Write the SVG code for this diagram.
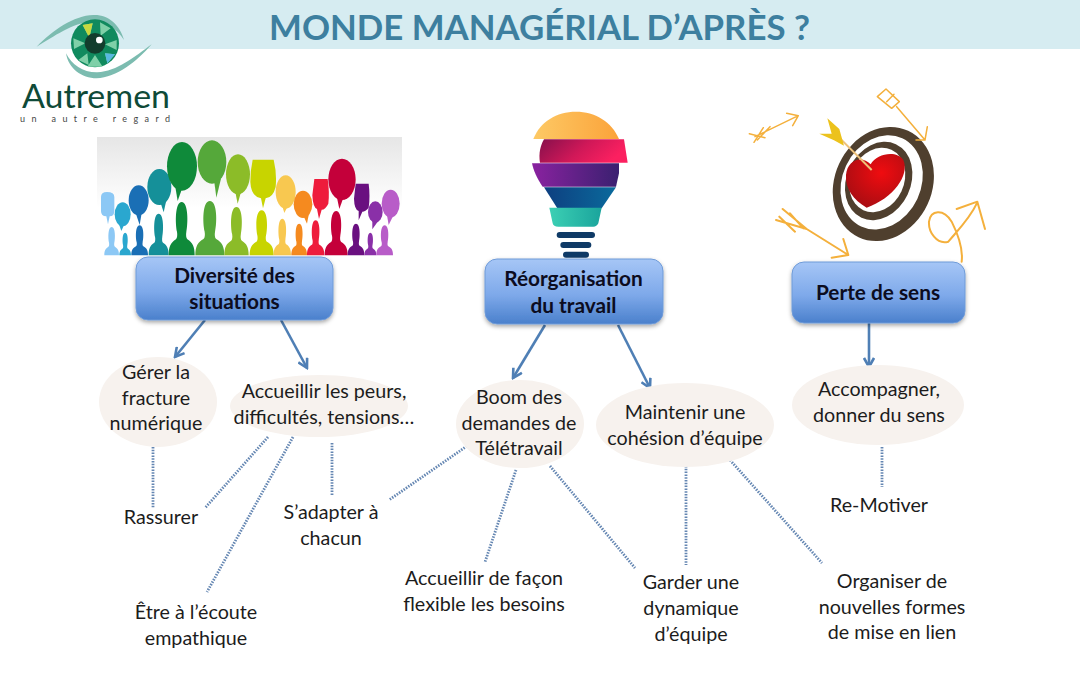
<svg xmlns="http://www.w3.org/2000/svg" width="1080" height="675" viewBox="0 0 1080 675">
<style>
.t{font-family:Lato,"Open Sans",sans-serif;font-size:19.700px;fill:#1c1c1c;text-anchor:middle}
.h{font-family:Lato,"Open Sans",sans-serif;font-size:20.800px;font-weight:700;fill:#0c0c20;text-anchor:middle}
.box{fill:url(#bg);stroke:#6f9bd8;stroke-width:1;filter:url(#sh)}
.el{fill:#f7f2ee}
.a{fill:none;stroke:#4f7fb5;stroke-width:2.600}
.d{fill:none;stroke:#6486b2;stroke-width:2.800;stroke-dasharray:1.500 1.300}
.o{fill:none;stroke:#f4b03c;stroke-width:4.500;stroke-linecap:round;stroke-linejoin:round}
</style>
<defs>
<linearGradient id="bg" x1="0" y1="0" x2="0" y2="1"><stop offset="0" stop-color="#a6c6f6"/><stop offset=".55" stop-color="#7ea9ea"/><stop offset="1" stop-color="#4a80cc"/></linearGradient>
<linearGradient id="panel" x1="0" y1="0" x2="0" y2="1"><stop offset="0" stop-color="#e6e6e6"/><stop offset=".6" stop-color="#ffffff"/></linearGradient>
<linearGradient id="l1" x1="0" y1="0" x2="1" y2="0"><stop offset="0" stop-color="#fdc965"/><stop offset="1" stop-color="#fba33a"/></linearGradient>
<linearGradient id="l2" x1="0" y1="0" x2="1" y2=".3"><stop offset="0" stop-color="#86104c"/><stop offset=".55" stop-color="#d01858"/><stop offset="1" stop-color="#fb2060"/></linearGradient>
<linearGradient id="l3" x1="0" y1="0" x2="1" y2="0"><stop offset="0" stop-color="#8a22a0"/><stop offset="1" stop-color="#3a2070"/></linearGradient>
<linearGradient id="l4" x1="0" y1="0" x2="1" y2="0"><stop offset="0" stop-color="#0e3f80"/><stop offset="1" stop-color="#0a6a9c"/></linearGradient>
<linearGradient id="l5" x1="0" y1="0" x2="1" y2="0"><stop offset="0" stop-color="#3cd0b4"/><stop offset="1" stop-color="#1aa49c"/></linearGradient>
<radialGradient id="hg" cx=".6" cy=".35" r=".7"><stop offset="0" stop-color="#f00c10"/><stop offset="1" stop-color="#a80d12"/></radialGradient>
<filter id="sh" x="-10%" y="-10%" width="120%" height="130%"><feDropShadow dx="0" dy="2" stdDeviation="2" flood-color="#000" flood-opacity=".35"/></filter>
<marker id="ah" viewBox="0 0 12 12" refX="10" refY="6" markerWidth="12" markerHeight="12" markerUnits="userSpaceOnUse" orient="auto"><path d="M1,1 L10,6 L1,11" fill="none" stroke="#4f7fb5" stroke-width="2.600"/></marker>
<path id="p" d="M0,100 C0,84 8,76 28,70 C33,68 34,62 32,56 C25,40 24,0 50,0 C76,0 75,40 68,56 C66,62 67,68 72,70 C92,76 100,84 100,100Z"/>
</defs>

<rect width="1080" height="675" fill="#fff"/>
<rect id="header" width="1080" height="49" fill="#d6ecf1"/>
<text x="539.500" y="40" font-family="Lato,sans-serif" font-weight="700" font-size="35" fill="#3d7f9f" text-anchor="middle" textLength="541" lengthAdjust="spacingAndGlyphs">MONDE MANAGÉRIAL D’APRÈS ?</text>

<g id="logo">
<g transform="translate(10,5) scale(.33333)">
<path d="M80,125 C130,75 190,32 250,30 C295,28 330,60 342,105 C320,70 285,48 245,50 C190,52 130,95 80,125Z" fill="#7cbcb0"/>
<path d="M425,118 C380,170 320,218 260,220 C215,220 175,190 168,145 C185,180 220,203 262,202 C320,200 375,155 425,118Z" fill="#7cbcb0"/>
<circle cx="255" cy="115" r="72" fill="#108a5e"/>
<path d="M218,60 L238,98 L248,55Z M270,52 L272,92 L302,70Z M190,100 L226,115 L192,132Z M320,105 L285,118 L320,135Z M205,165 L232,145 L236,180Z M255,150 L232,185 L278,185Z M285,145 L315,148 L292,175Z" fill="#7fd0a8"/>
<path d="M218,60 L238,98 L248,55Z" fill="#c8d840"/>
<path d="M285,145 L315,148 L292,175Z" fill="#58b8e0"/>
<circle cx="255" cy="115" r="31" fill="#123d2d"/>
<circle cx="268" cy="105" r="10" fill="#fff"/>
</g>
<text x="22" y="108" font-family="Lato,sans-serif" font-size="32" fill="#0f4a38" textLength="148" lengthAdjust="spacingAndGlyphs">Autremen</text>
<text x="20" y="122" font-family="Lato,sans-serif" font-size="9" fill="#444" textLength="150">un autre regard</text>
</g>

<g id="people">
<rect x="97" y="137" width="305" height="119" fill="url(#panel)"/>
<g transform="translate(97,137) scale(.33333)">
<g id="bubbles">
<path fill="#8cc8f5" d="M12,180 Q12,165 30,165 Q52,165 52,180 L52,222 Q52,238 38,238 L33,262 L28,238 Q12,238 12,222Z"/>
<ellipse cx="77" cy="232" rx="24" ry="36" fill="#2aa7cf"/><path fill="#2aa7cf" d="M66,262 L73,282 L82,262Z"/>
<ellipse cx="125" cy="190" rx="30" ry="45" fill="#1a6fb5"/><path fill="#1a6fb5" d="M116,228 L128,264 L134,228Z"/>
<ellipse cx="187" cy="150" rx="36" ry="54" fill="#159099"/><path fill="#159099" d="M190,195 L200,226 L208,190Z"/>
<ellipse cx="255" cy="88" rx="45" ry="73" fill="#0f8a3a"/><path fill="#0f8a3a" d="M235,150 L242,192 L255,155Z"/>
<ellipse cx="345" cy="75" rx="43" ry="65" fill="#55a83a"/><path fill="#55a83a" d="M352,135 L358,182 L372,125Z"/>
<ellipse cx="423" cy="112" rx="36" ry="60" fill="#8cbc28"/><path fill="#8cbc28" d="M415,165 L422,200 L432,165Z"/>
<path fill="#c8d400" d="M467,68 L530,68 Q540,110 536,150 Q528,182 506,184 L498,214 L492,184 Q462,178 460,135 Q460,100 467,68Z"/>
<ellipse cx="566" cy="165" rx="30" ry="50" fill="#f8c850"/><path fill="#f8c850" d="M556,208 L562,228 L572,208Z"/>
<ellipse cx="618" cy="202" rx="28" ry="41" fill="#f58a1f"/><path fill="#f58a1f" d="M620,238 L630,260 L635,234Z"/>
<path fill="#ee1c3c" d="M652,126 L692,126 Q698,165 694,200 Q685,218 674,218 L666,246 L660,216 Q648,212 646,175Z"/>
<ellipse cx="735" cy="127" rx="41" ry="62" fill="#c4003a"/><path fill="#c4003a" d="M720,182 L727,216 L738,185Z"/>
<path fill="#6a1080" d="M776,140 L815,140 Q820,180 815,212 Q805,224 796,224 L785,250 L785,222 Q772,218 771,185Z"/>
<ellipse cx="835" cy="225" rx="22" ry="32" fill="#8a30a8"/><path fill="#8a30a8" d="M826,252 L826,277 L842,254Z"/>
<ellipse cx="881" cy="200" rx="27" ry="42" fill="#b85cc8"/><path fill="#b85cc8" d="M870,235 L875,264 L888,238Z"/>
</g>
<g id="silhouettes">
<use href="#p" fill="#8cc8f5" transform="translate(22,270) scale(.44,.85)"/>
<use href="#p" fill="#2aa7cf" transform="translate(67,287) scale(.35,.68)"/>
<use href="#p" fill="#1a6fb5" transform="translate(103,265) scale(.5,.9)"/>
<use href="#p" fill="#159099" transform="translate(155,230) scale(.6,1.25)"/>
<use href="#p" fill="#0f8a3a" transform="translate(215,195) scale(.78,1.6)"/>
<use href="#p" fill="#55a83a" transform="translate(295,192) scale(.87,1.63)"/>
<use href="#p" fill="#8cbc28" transform="translate(382,210) scale(.73,1.45)"/>
<use href="#p" fill="#c8d400" transform="translate(458,220) scale(.72,1.35)"/>
<use href="#p" fill="#f8c850" transform="translate(530,245) scale(.52,1.1)"/>
<use href="#p" fill="#f58a1f" transform="translate(583,260) scale(.47,.95)"/>
<use href="#p" fill="#ee1c3c" transform="translate(630,250) scale(.52,1.05)"/>
<use href="#p" fill="#c4003a" transform="translate(683,222) scale(.69,1.33)"/>
<use href="#p" fill="#6a1080" transform="translate(752,260) scale(.5,.95)"/>
<use href="#p" fill="#8a30a8" transform="translate(802,287) scale(.36,.68)"/>
<use href="#p" fill="#b85cc8" transform="translate(838,265) scale(.5,.9)"/>
</g>
</g>
</g>

<g id="bulb" transform="translate(470,90) scale(.33333)">
<path fill="url(#l1)" d="M190,147 C210,95 260,65 318,65 C375,65 425,95 447,147Z"/>
<path fill="url(#l2)" d="M222,148 L462,148 L473,218 L210,218 C205,190 212,165 222,148Z"/>
<path fill="url(#l3)" d="M186,220 L447,220 L447,250 L438,290 L218,290 C200,265 190,240 186,220Z"/>
<path fill="url(#l4)" d="M222,292 L438,292 L395,355 L262,355Z"/>
<path fill="url(#l5)" d="M238,353 L395,353 L385,400 Q380,410 370,410 L265,410 Q250,410 248,400Z"/>
<rect x="260" y="426" width="115" height="18" rx="9" fill="#0f3a66"/>
<rect x="271" y="456" width="93" height="18" rx="9" fill="#0f3a66"/>
<rect x="279" y="485" width="78" height="18" rx="9" fill="#0f3a66"/>
</g>

<g id="target" transform="translate(740,85) scale(.33333)">
<ellipse cx="430" cy="297" rx="146" ry="176" transform="rotate(25 430 297)" fill="#4f3f2e"/>
<ellipse cx="425" cy="292" rx="118" ry="146" transform="rotate(25 425 292)" fill="#fff"/>
<ellipse cx="416" cy="288" rx="96" ry="122" transform="rotate(25 416 288)" fill="#4f3f2e"/>
<ellipse cx="412" cy="285" rx="80" ry="100" transform="rotate(25 412 285)" fill="#fff"/>
<path fill="url(#hg)" d="M380,368 C340,345 315,310 318,270 C322,225 365,210 392,238 C410,205 470,195 490,225 C510,270 460,340 380,368Z"/>
<path d="M395,255 L285,145" stroke="#eec27a" stroke-width="6" fill="none"/>
<path fill="#ecc21c" d="M262,100 L298,132 L312,182 L282,166 L238,146 L275,146Z"/>
<path class="o" d="M45,155 L175,92 M140,85 L175,92 L158,122 M28,146 L75,158 M42,172 L70,128 M52,165 L90,125"/>
<path class="o" d="M470,65 L555,165 M562,125 L555,165 L528,165 M412,35 L438,12 L478,50 L455,70Z M440,50 L462,28"/>
<path class="o" style="stroke-width:6" d="M200,432 L325,510 M275,518 L325,510 L310,462 M108,405 L200,432 M128,372 L200,432 M118,395 L165,440 M150,385 L190,430"/>
<path class="o" style="stroke-width:6" d="M650,372 L712,350 L735,432 M712,352 C690,400 650,440 625,470 C590,480 565,440 567,410 C572,375 610,370 635,410 C655,450 670,490 665,530"/>
</g>

<g id="connectors">
<path class="a" marker-end="url(#ah)" d="M205,320 L175,357"/>
<path class="a" marker-end="url(#ah)" d="M281,320 L307,368"/>
<path class="a" marker-end="url(#ah)" d="M545,325 L513,378"/>
<path class="a" marker-end="url(#ah)" d="M618,325 L650,388"/>
<path class="a" marker-end="url(#ah)" d="M869,323 L869,367"/>
<path class="d" d="M153,447 L153,508"/>
<path class="d" d="M268,437 L205,508"/>
<path class="d" d="M293,437 L207,592"/>
<path class="d" d="M332,443 L332,495"/>
<path class="d" d="M467,446 L389,500"/>
<path class="d" d="M516,470 L485,562"/>
<path class="d" d="M550,466 L635,568"/>
<path class="d" d="M686,466 L686,565"/>
<path class="d" d="M730,460 L822,563"/>
<path class="d" d="M882,447 L882,487"/>
</g>

<g id="n-diversite"><rect class="box" x="136" y="257" width="197" height="63" rx="12"/><text class="h" x="234.500" y="283">Diversité des</text><text class="h" x="234.500" y="309">situations</text></g>
<g id="n-reorganisation"><rect class="box" x="485" y="259" width="178" height="65" rx="12"/><text class="h" x="573.500" y="286">Réorganisation</text><text class="h" x="573.500" y="313">du travail</text></g>
<g id="n-perte"><rect class="box" x="792" y="262" width="173" height="61" rx="12"/><text class="h" x="878" y="300">Perte de sens</text></g>

<g id="n-gerer"><ellipse class="el" cx="158" cy="402" rx="59" ry="45"/><text class="t" x="156" y="379">Gérer la</text><text class="t" x="156" y="405">fracture</text><text class="t" x="156" y="430">numérique</text></g>
<g id="n-accueillir"><ellipse class="el" cx="319" cy="406" rx="89" ry="31"/><text class="t" x="324" y="398">Accueillir les peurs,</text><text class="t" x="324" y="424">difficultés, tensions…</text></g>
<g id="n-boom"><ellipse class="el" cx="520" cy="424" rx="64" ry="44"/><text class="t" x="519" y="404">Boom des</text><text class="t" x="519" y="430">demandes de</text><text class="t" x="519" y="455">Télétravail</text></g>
<g id="n-maintenir"><ellipse class="el" cx="685" cy="425" rx="89" ry="42"/><text class="t" x="685" y="419">Maintenir une</text><text class="t" x="685" y="445">cohésion d’équipe</text></g>
<g id="n-accompagner"><ellipse class="el" cx="878" cy="405" rx="86" ry="40"/><text class="t" x="879" y="396">Accompagner,</text><text class="t" x="879" y="422">donner du sens</text></g>

<g id="n-rassurer"><text class="t" x="161" y="524">Rassurer</text></g>
<g id="n-adapter"><text class="t" x="331" y="519">S’adapter à</text><text class="t" x="331" y="545">chacun</text></g>
<g id="n-ecoute"><text class="t" x="196" y="619">Être à l’écoute</text><text class="t" x="196" y="645">empathique</text></g>
<g id="n-flexible"><text class="t" x="484" y="585">Accueillir de façon</text><text class="t" x="484" y="611">flexible les besoins</text></g>
<g id="n-dynamique"><text class="t" x="691" y="589">Garder une</text><text class="t" x="691" y="615">dynamique</text><text class="t" x="691" y="641">d’équipe</text></g>
<g id="n-organiser"><text class="t" x="892" y="588">Organiser de</text><text class="t" x="892" y="614">nouvelles formes</text><text class="t" x="892" y="639">de mise en lien</text></g>
<g id="n-remotiver"><text class="t" x="879" y="512">Re-Motiver</text></g>
</svg>
